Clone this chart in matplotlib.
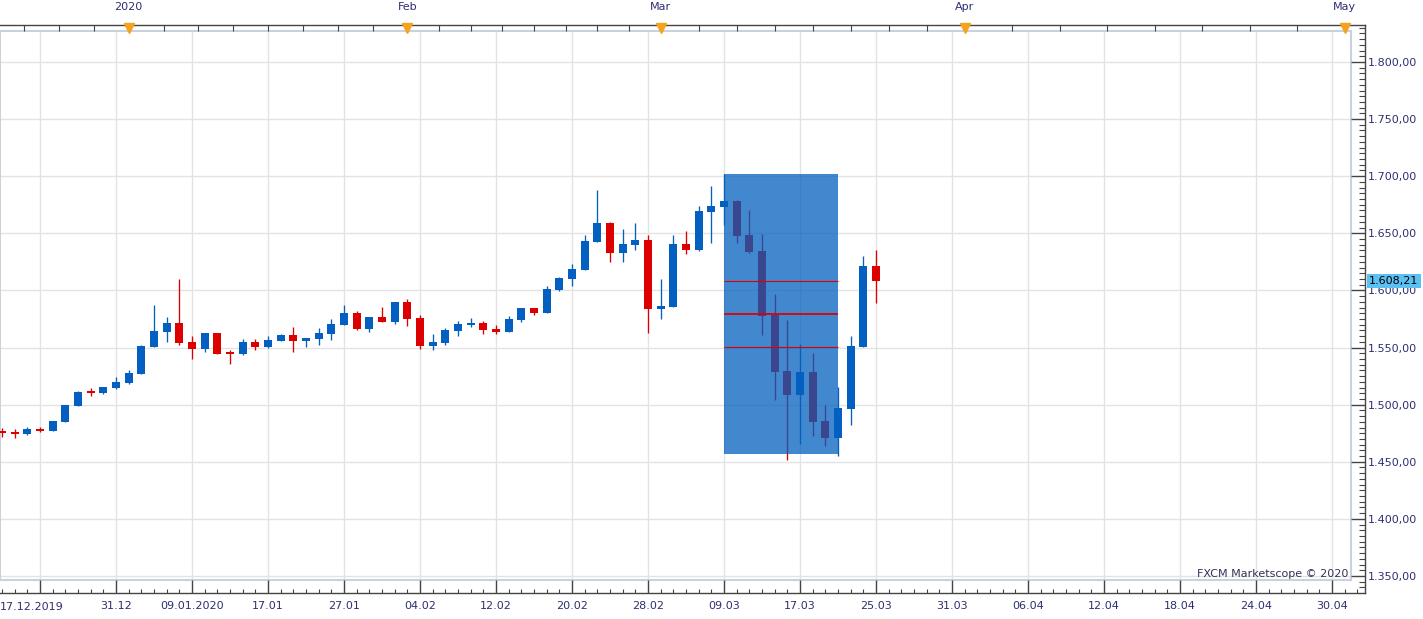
import matplotlib
matplotlib.use('Agg')
import matplotlib.pyplot as plt
import matplotlib.transforms as mtransforms
from matplotlib.patches import Rectangle
from matplotlib.ticker import MultipleLocator, FixedLocator, FuncFormatter
import numpy as np

# daily candles (slot index = position on the chart)
opens = [1476.5, 1476.1, 1474.3, 1478.7, 1477.0, 1484.9, 1498.9, 1511.5, 1510.2, 1514.6,
         1519.0, 1526.9, 1550.5, 1563.6, 1571.5, 1554.9, 1548.7, 1562.8, 1545.7, 1544.4,
         1554.9, 1550.5, 1555.8, 1561.0, 1555.8, 1557.5, 1561.9, 1569.8, 1580.3, 1566.3,
         1576.8, 1572.4, 1589.9, 1575.9, 1551.3, 1554.0, 1564.5, 1569.8, 1571.5, 1566.3,
         1563.6, 1574.1, 1584.6, 1580.3, 1600.4, 1610.0, 1617.9, 1642.4, 1659.1, 1632.8,
         1639.8, 1644.2, 1583.8, 1585.5, 1640.7, 1635.4, 1668.7, 1673.1, 1678.3, 1648.6,
         1634.6, 1578.5, 1529.5, 1508.5, 1528.6, 1485.7, 1470.8, 1496.2, 1550.5, 1621.4]
highs = [1479.6, 1478.7, 1480.5, 1480.5, 1485.7, 1499.7, 1512.0, 1514.6, 1515.4, 1524.3,
         1530.4, 1552.2, 1587.3, 1576.8, 1610.0, 1560.1, 1562.8, 1562.8, 1547.9, 1557.5,
         1557.5, 1560.1, 1561.9, 1568.0, 1558.4, 1567.1, 1575.0, 1587.3, 1582.0, 1576.8,
         1585.5, 1589.9, 1592.5, 1578.5, 1561.9, 1567.1, 1573.3, 1575.9, 1573.3, 1569.8,
         1577.7, 1584.6, 1584.6, 1603.9, 1611.7, 1623.2, 1648.6, 1687.9, 1659.9, 1653.8,
         1659.1, 1648.6, 1610.0, 1648.6, 1652.1, 1673.9, 1691.4, 1702.0, 1679.2, 1670.4,
         1649.4, 1596.9, 1574.1, 1553.1, 1545.3, 1499.7, 1515.5, 1560.1, 1630.1, 1635.4]
lows = [1471.7, 1470.8, 1473.5, 1476.1, 1477.0, 1484.9, 1498.9, 1507.6, 1509.3, 1513.7,
        1518.1, 1526.9, 1550.5, 1554.9, 1552.2, 1540.0, 1546.1, 1544.4, 1535.6, 1543.5,
        1547.9, 1549.6, 1555.8, 1546.1, 1550.5, 1552.2, 1556.6, 1569.8, 1565.4, 1563.6,
        1572.4, 1570.7, 1568.9, 1548.7, 1547.9, 1552.2, 1560.1, 1568.0, 1561.9, 1561.9,
        1563.6, 1572.4, 1578.5, 1580.3, 1599.5, 1603.9, 1617.9, 1642.4, 1624.9, 1624.9,
        1635.4, 1562.8, 1575.0, 1585.5, 1631.9, 1634.6, 1641.6, 1657.4, 1641.6, 1632.8,
        1561.0, 1504.1, 1451.6, 1465.6, 1472.6, 1463.9, 1455.1, 1482.2, 1550.5, 1589.0]
closes = [1475.7, 1474.3, 1478.7, 1477.0, 1485.7, 1499.7, 1511.1, 1510.6, 1515.4, 1519.9,
          1527.7, 1551.3, 1564.5, 1571.5, 1554.0, 1548.7, 1562.8, 1544.4, 1544.8, 1554.9,
          1550.5, 1556.6, 1561.0, 1555.8, 1558.4, 1562.8, 1570.7, 1580.3, 1566.3, 1576.8,
          1572.4, 1589.9, 1575.0, 1551.3, 1554.9, 1565.4, 1570.7, 1571.5, 1565.4, 1563.6,
          1575.0, 1584.6, 1580.3, 1601.3, 1610.9, 1618.8, 1643.3, 1659.1, 1632.8, 1640.7,
          1644.2, 1583.8, 1586.4, 1640.7, 1635.4, 1669.6, 1673.9, 1678.3, 1647.7, 1633.7,
          1577.6, 1528.6, 1508.5, 1528.6, 1484.9, 1470.8, 1497.1, 1551.4, 1621.4, 1608.21]

last_price = 1608.21

# fibonacci box (slot from/to, high/low) and its levels
fib_start, fib_end = 57, 66
fib_high, fib_low = 1702.0, 1456.8
fib_levels = [1550.5, 1579.4, 1608.2]
fib_widths = [0.8, 1.3, 0.8]

date_slots = [3, 9, 15, 21, 27, 33, 39, 45, 51, 57, 63, 69, 75, 81, 87, 93, 99, 105]
date_labels = ['17.12.2019', '31.12', '09.01.2020', '17.01', '27.01', '04.02', '12.02',
               '20.02', '28.02', '09.03', '17.03', '25.03', '31.03', '06.04', '12.04',
               '18.04', '24.04', '30.04']
month_slots = [10, 32, 52, 76, 106]
month_labels = ['2020', 'Feb', 'Mar', 'Apr', 'May']

RED = '#dd0000'
BLUE = '#0360c0'
TXT = '#2e2e74'
DARK = '#444444'

W, H = 1423, 619
fig = plt.figure(figsize=(W / 100, H / 100), dpi=100)
plt.rcParams['font.family'] = ['DejaVu Sans']

# pixel boxes (left, top, right, bottom)
inner = (0, 31, 1351, 580)
outer = (0, 25, 1365, 593)
xlim = (-0.16, 106.5)
ylim = (1346.5, 1827.1)

ax = fig.add_axes([inner[0] / W, 1 - inner[3] / H, (inner[2] - inner[0]) / W, (inner[3] - inner[1]) / H])
ax.set_xlim(*xlim)
ax.set_ylim(*ylim)
for s in ax.spines.values():
    s.set_color('#c9d1dc')
    s.set_linewidth(1.5)
ax.set_xticks(date_slots)
ax.set_yticks(np.arange(1350, 1801, 50))
ax.tick_params(length=0, labelbottom=False, labelleft=False)
ax.grid(True, color='#e3e3e3', lw=1)
ax.set_axisbelow(True)

x = np.arange(len(opens))
o = np.array(opens); c = np.array(closes)
cols = [BLUE if cc >= oo else RED for oo, cc in zip(opens, closes)]
ax.vlines(x, lows, highs, colors=cols, lw=0.95, zorder=2)
min_h = 1.8
small = np.abs(c - o) < min_h
body_h = np.maximum(np.abs(c - o), min_h)
body_b = np.minimum(o, c) - np.where(small, (min_h - np.abs(c - o)) / 2, 0)
ax.bar(x, body_h, bottom=body_b, width=0.63, color=cols, zorder=3, linewidth=0)

ax.add_patch(Rectangle((fib_start, fib_low), fib_end - fib_start, fib_high - fib_low,
                       facecolor=BLUE, alpha=0.75, edgecolor='none', zorder=4))
ax.hlines(fib_levels, fib_start, fib_end, colors='#e00000', lw=fib_widths, zorder=5)

ax.text(1 - 3 / 1351, 6 / 549, 'FXCM Marketscope \u00a9 2020', transform=ax.transAxes,
        ha='right', va='center', fontsize=8, color='#333355')

# outer frame with the axes
sx = (xlim[1] - xlim[0]) / (inner[2] - inner[0])
sy = (ylim[1] - ylim[0]) / (inner[3] - inner[1])
fx = (xlim[0] + (outer[0] - inner[0]) * sx, xlim[0] + (outer[2] - inner[0]) * sx)
fy = (ylim[0] + (inner[3] - outer[3]) * sy, ylim[0] + (inner[3] - outer[1]) * sy)

fr = fig.add_axes([outer[0] / W, 1 - outer[3] / H, (outer[2] - outer[0]) / W, (outer[3] - outer[1]) / H],
                  facecolor='none')
fr.set_xlim(*fx)
fr.set_ylim(*fy)
fr.spines['left'].set_visible(False)
for k in ['top', 'right', 'bottom']:
    fr.spines[k].set_color(DARK)
    fr.spines[k].set_linewidth(1)

def de_fmt(v, pos=None):
    return f'{v:,.2f}'.replace(',', 'X').replace('.', ',').replace('X', '.')

fr.yaxis.tick_right()
fr.yaxis.set_major_locator(FixedLocator(np.arange(1350, 1801, 50)))
fr.yaxis.set_minor_locator(MultipleLocator(5))
fr.yaxis.set_major_formatter(FuncFormatter(de_fmt))
fr.tick_params(axis='y', which='major', direction='in', length=10, width=1, color=DARK,
               labelsize=8, labelcolor=TXT, pad=2)
fr.tick_params(axis='y', which='minor', direction='in', length=4.3, width=0.8, color=DARK)

fr.xaxis.set_major_locator(FixedLocator(date_slots))
fr.xaxis.set_minor_locator(MultipleLocator(1))
fr.set_xticklabels([''] + date_labels[1:])
fr.tick_params(axis='x', which='major', direction='in', length=9.5, width=1, color=DARK,
               labelsize=8, labelcolor=TXT, pad=6)
fr.tick_params(axis='x', which='minor', direction='in', length=3, width=0.8, color=DARK)
fr.text(0, -14 / (outer[3] - outer[1]), date_labels[0], transform=fr.transAxes,
        ha='left', va='center', fontsize=8, color=TXT)

# top month axis
top = fr.twiny()
top.set_xlim(*fx)
for s in top.spines.values():
    s.set_visible(False)
top.xaxis.set_major_locator(FixedLocator(month_slots))
top.set_xticklabels(month_labels)
sub = []
bounds = [month_slots[0] - (month_slots[1] - month_slots[0])] + month_slots
for a, b in zip(bounds[:-1], bounds[1:]):
    sub.extend(np.linspace(a, b, 9)[1:-1])
top.xaxis.set_minor_locator(FixedLocator(sub))
top.tick_params(axis='x', which='major', length=0, labelsize=8, labelcolor=TXT, pad=9)
top.tick_params(axis='x', which='minor', direction='in', length=4, width=0.8, color=DARK)
top.plot(month_slots, [fy[1] - 3 * sy] * len(month_slots), linestyle='none', marker='v',
         markersize=7, color='#f5a31f', clip_on=False, zorder=6)
top.set_ylim(*fy)

# current price label
trans = mtransforms.blended_transform_factory(fr.transAxes, fr.transData)
fr.text(1 + 4 / (outer[2] - outer[0]), last_price, de_fmt(last_price), transform=trans,
        ha='left', va='center', fontsize=8, color='black', zorder=10, clip_on=False,
        bbox=dict(boxstyle='square,pad=0.2', facecolor='#5bc0f2', edgecolor='none'))

fig.savefig('out.png', dpi=100)
